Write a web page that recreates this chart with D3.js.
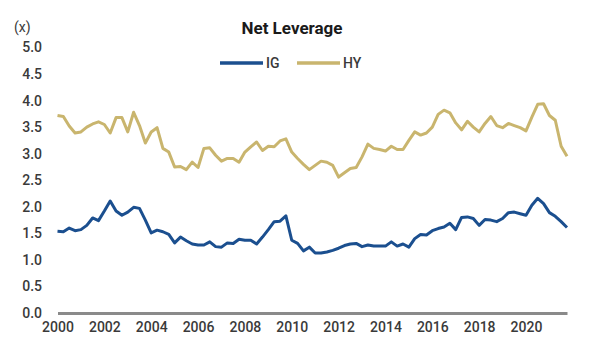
<!DOCTYPE html>
<html>
<head>
<meta charset="utf-8">
<script src="https://cdn.jsdelivr.net/npm/d3@7"></script>
<style>
  body { margin: 0; background: #fff; }
  text { font-family: Roboto, "Liberation Sans", Arial, sans-serif; }
</style>
</head>
<body>
<svg id="chart" width="606" height="348"></svg>
<script>
// quarterly net leverage, 2000Q1 .. 2021Q4
var igValues = [
  1.54, 1.53, 1.60, 1.55, 1.57, 1.65, 1.79, 1.74, 1.92, 2.11, 1.92, 1.84,
  1.90, 1.99, 1.97, 1.75, 1.51, 1.56, 1.53, 1.48, 1.32, 1.43, 1.36, 1.30,
  1.28, 1.28, 1.34, 1.25, 1.24, 1.32, 1.31, 1.39, 1.37, 1.37, 1.30, 1.43,
  1.57, 1.72, 1.73, 1.83, 1.37, 1.31, 1.17, 1.24, 1.13, 1.13, 1.15, 1.18,
  1.22, 1.27, 1.30, 1.31, 1.25, 1.28, 1.26, 1.26, 1.26, 1.34, 1.26, 1.30,
  1.24, 1.40, 1.48, 1.47, 1.55, 1.59, 1.62, 1.69, 1.57, 1.80, 1.81, 1.78,
  1.65, 1.76, 1.75, 1.72, 1.78, 1.89, 1.90, 1.87, 1.84, 2.03, 2.16, 2.06,
  1.89, 1.82, 1.72, 1.61
];
var hyValues = [
  3.72, 3.70, 3.52, 3.39, 3.41, 3.50, 3.56, 3.60, 3.55, 3.39, 3.68, 3.68,
  3.41, 3.78, 3.53, 3.20, 3.41, 3.49, 3.10, 3.03, 2.75, 2.76, 2.70, 2.84,
  2.74, 3.10, 3.11, 2.97, 2.86, 2.91, 2.91, 2.84, 3.03, 3.13, 3.22, 3.06,
  3.14, 3.13, 3.24, 3.28, 3.03, 2.91, 2.80, 2.70, 2.78, 2.86, 2.84, 2.78,
  2.56, 2.64, 2.72, 2.74, 2.94, 3.18, 3.10, 3.08, 3.05, 3.14, 3.08, 3.08,
  3.25, 3.41, 3.35, 3.39, 3.50, 3.74, 3.82, 3.77, 3.58, 3.45, 3.61, 3.50,
  3.41, 3.57, 3.70, 3.53, 3.49, 3.57, 3.53, 3.49, 3.43, 3.69, 3.93, 3.94,
  3.72, 3.63, 3.14, 2.95
];
var xTickYears = [2000, 2002, 2004, 2006, 2008, 2010, 2012, 2014, 2016, 2018, 2020];
var yTickValues = [0, 0.5, 1, 1.5, 2, 2.5, 3, 3.5, 4, 4.5, 5];
var seriesNames = ["IG", "HY"];
var seriesColors = ["#1b4f8f", "#c9b56e"];

// quarter start as decimal year
var quarters = igValues.map(function (d, i) { return 2000 + i / 4; });

var svg = d3.select("#chart");

var x = d3.scaleLinear()
    .domain([2000, d3.max(quarters)])
    .range([57.5, 567]);

var y = d3.scaleLinear()
    .domain([0, 5])
    .range([313, 47.5]);

// y labels, no axis line
var yAxis = d3.axisLeft(y)
    .tickValues(yTickValues)
    .tickFormat(d3.format(".1f"))
    .tickSize(0)
    .tickPadding(0);

svg.append("g")
    .attr("transform", "translate(42,0)")
    .call(yAxis)
    .call(function (g) { g.select(".domain").remove(); })
    .selectAll("text")
    .attr("font-size", 14)
    .attr("font-weight", 500)
    .attr("fill", "#3a3a3a")
    .attr("font-family", "Roboto, sans-serif");

svg.append("text")
    .attr("x", 14)
    .attr("y", 32)
    .attr("font-size", 14)
    .attr("fill", "#3a3a3a")
    .text("(x)");

// x axis: thick gray baseline with year labels
var xAxis = d3.axisBottom(x)
    .tickValues(xTickYears)
    .tickFormat(d3.format("d"))
    .tickSize(0)
    .tickPadding(9);

var xg = svg.append("g")
    .attr("transform", "translate(0," + y(0) + ")")
    .call(xAxis);

xg.select(".domain")
    .attr("stroke", "#8a8a8a")
    .attr("stroke-width", 3);

xg.selectAll("text")
    .attr("font-size", 14)
    .attr("font-weight", 500)
    .attr("fill", "#3a3a3a")
    .attr("font-family", "Roboto, sans-serif");

var line = d3.line()
    .x(function (d) { return x(d[0]); })
    .y(function (d) { return y(d[1]); });

[igValues, hyValues].forEach(function (vals, k) {
    svg.append("path")
        .datum(d3.zip(quarters, vals))
        .attr("fill", "none")
        .attr("stroke", seriesColors[k])
        .attr("stroke-width", 3)
        .attr("stroke-linejoin", "round")
        .attr("d", line);
});

// title
svg.append("text")
    .attr("x", 292)
    .attr("y", 34)
    .attr("text-anchor", "middle")
    .attr("font-size", 17)
    .attr("font-weight", 700)
    .attr("fill", "#1a1a1a")
    .text("Net Leverage");

// legend
var legend = svg.append("g").attr("transform", "translate(220,63)");
var legendX = [0, 77];
seriesNames.forEach(function (name, k) {
    legend.append("line")
        .attr("x1", legendX[k])
        .attr("x2", legendX[k] + 43)
        .attr("y1", 0)
        .attr("y2", 0)
        .attr("stroke", seriesColors[k])
        .attr("stroke-width", 3.5);
    legend.append("text")
        .attr("x", legendX[k] + 46)
        .attr("y", 5)
        .attr("font-size", 14)
        .attr("font-weight", 500)
        .attr("fill", "#3a3a3a")
        .text(name);
});
</script>
</body>
</html>
